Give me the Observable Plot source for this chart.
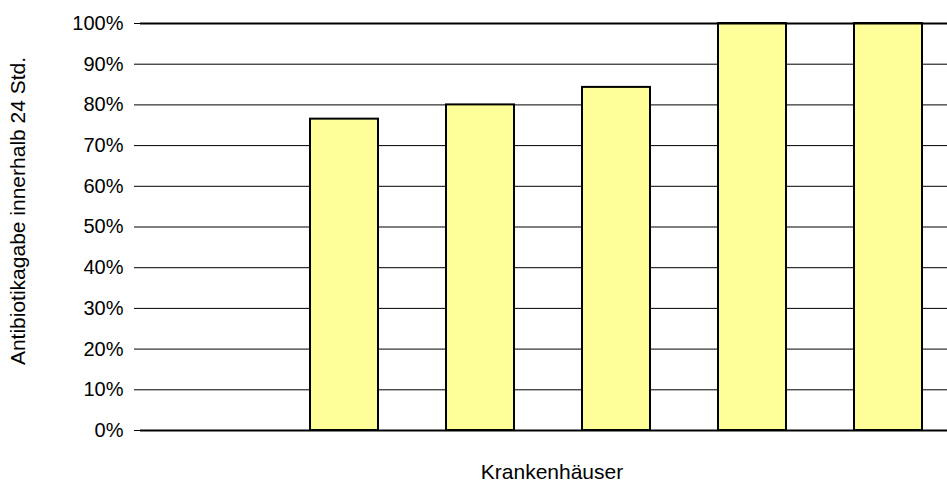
<!DOCTYPE html>
<html>
<head>
<meta charset="utf-8">
<script src="https://cdn.jsdelivr.net/npm/d3@7"></script>
<script src="https://cdn.jsdelivr.net/npm/@observablehq/plot@0.6"></script>
<style>
  html, body { margin: 0; padding: 0; background: #fff; overflow: hidden; }
  svg { overflow: hidden !important; }
</style>
</head>
<body>
<div id="chart"></div>
<script>
const hospitals = ["K0", "K1", "K2", "K3", "K4", "K5"];
const rates = [null, 0.765, 0.800, 0.843, 1.0, 1.0];
const yTicks = [0, 0.1, 0.2, 0.3, 0.4, 0.5, 0.6, 0.7, 0.8, 0.9, 1.0];
const gridTicks = [0.1, 0.2, 0.3, 0.4, 0.5, 0.6, 0.7, 0.8, 0.9];
const yTitle = "Antibiotikagabe innerhalb 24 Std.";
const xTitle = "Krankenhäuser";

const data = hospitals.map((h, i) => ({hospital: h, rate: rates[i]})).filter(d => d.rate != null);

const chart = Plot.plot({
  width: 947,
  height: 482,
  marginLeft: 140,
  marginRight: 0,
  marginTop: 23,
  marginBottom: 52,
  style: {fontFamily: "'Liberation Sans', Arial, sans-serif", fontSize: "20px", color: "#000", background: "#fff", overflow: "hidden"},
  x: {domain: hospitals, range: [140, 956], paddingInner: 0.5, paddingOuter: 0.25, axis: null},
  y: {domain: [0, 1], axis: null},
  marks: [
    Plot.ruleY(gridTicks, {stroke: "#000", strokeWidth: 1}),
    Plot.barY(data, {x: "hospital", y: "rate", fill: "#FFFF99", stroke: "#000", strokeWidth: 2}),
    Plot.ruleY([1], {stroke: "#000", strokeWidth: 2}),
    Plot.ruleY([0], {stroke: "#000", strokeWidth: 2}),
    Plot.ruleX([0], {frameAnchor: "left", y1: 0, y2: 1, stroke: "#000", strokeWidth: 2}),
    Plot.axisY({ticks: yTicks, tickFormat: d3.format(".0%"), tickSize: 6, tickPadding: 11, fontSize: 20, stroke: "#000", label: null}),
    Plot.text([yTitle], {frameAnchor: "left", textAnchor: "middle", lineAnchor: "middle", rotate: -90, dx: -122, dy: -16, fontSize: 21, fill: "#000"}),
    Plot.text([xTitle], {frameAnchor: "bottom", textAnchor: "middle", lineAnchor: "middle", dx: 8, dy: 42, fontSize: 21, fill: "#000"})
  ]
});
document.getElementById("chart").appendChild(chart);
</script>
</body>
</html>
